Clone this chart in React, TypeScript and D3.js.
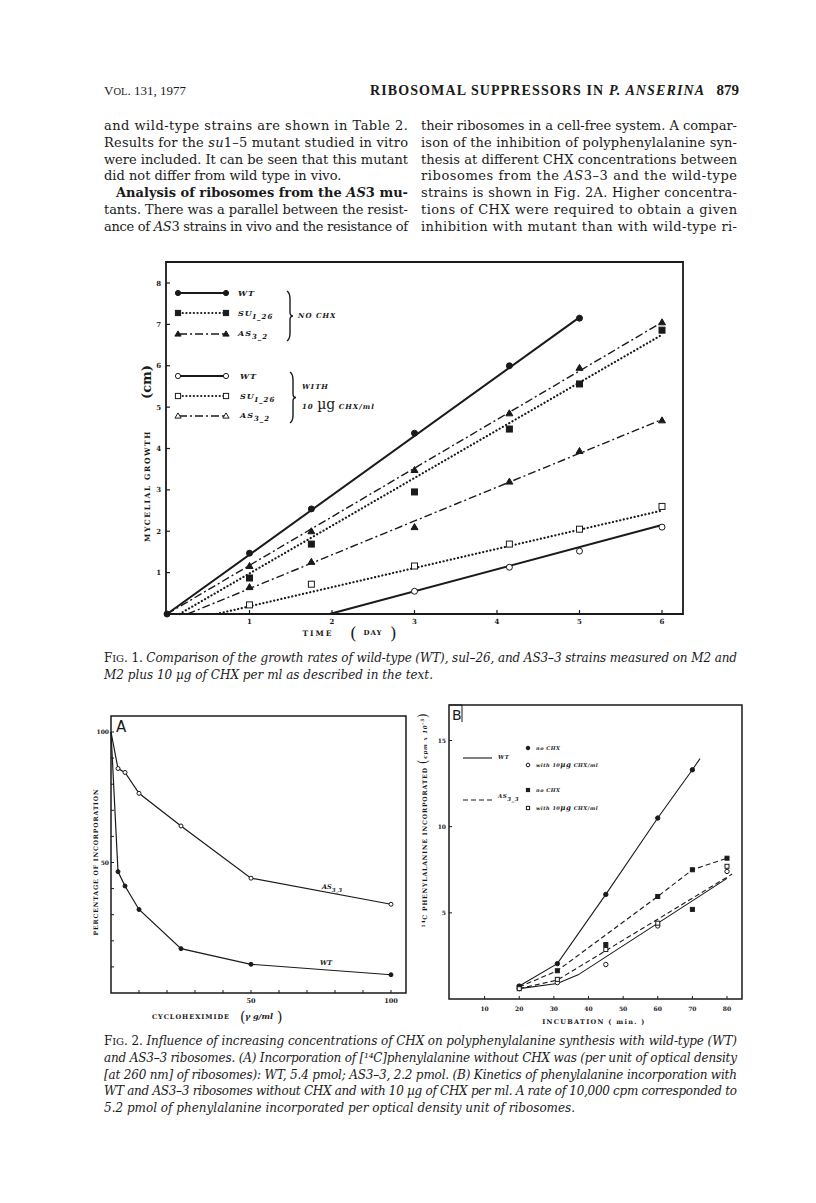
import React from "react";
import * as d3 from "d3";

// ---------- Page text ----------
const HEADER_LEFT = "131, 1977";
const PAGE_NO = "879";
const LEFT_COL = [
  "and wild-type strains are shown in Table 2.",
  "Results for the su1–5 mutant studied in vitro",
  "were included. It can be seen that this mutant",
  "did not differ from wild type in vivo.",
  "Analysis of ribosomes from the AS3 mu-",
  "tants. There was a parallel between the resist-",
  "ance of AS3 strains in vivo and the resistance of",
];
const RIGHT_COL = [
  "their ribosomes in a cell-free system. A compar-",
  "ison of the inhibition of polyphenylalanine syn-",
  "thesis at different CHX concentrations between",
  "ribosomes from the AS3–3 and the wild-type",
  "strains is shown in Fig. 2A. Higher concentra-",
  "tions of CHX were required to obtain a given",
  "inhibition with mutant than with wild-type ri-",
];
const CAP1 = [
  "Comparison of the growth rates of wild-type (WT), sul–26, and AS3–3 strains measured on M2 and",
  "M2 plus 10 µg of CHX per ml as described in the text.",
];
const CAP2 = [
  "Influence of increasing concentrations of CHX on polyphenylalanine synthesis with wild-type (WT)",
  "and AS3–3 ribosomes. (A) Incorporation of [¹⁴C]phenylalanine without CHX was (per unit of optical density",
  "[at 260 nm] of ribosomes): WT, 5.4 pmol; AS3–3, 2.2 pmol. (B) Kinetics of phenylalanine incorporation with",
  "WT and AS3–3 ribosomes without CHX and with 10 µg of CHX per ml. A rate of 10,000 cpm corresponded to",
  "5.2 pmol of phenylalanine incorporated per optical density unit of ribosomes.",
];

// ---------- Fig 1 data (day, cm) ----------
const F1_X_TICKS = [1, 2, 3, 4, 5, 6];
const F1_Y_TICKS = [1, 2, 3, 4, 5, 6, 7, 8];
const F1_DAYS_WT = [0, 1, 1.75, 3, 4.15, 5];
const F1_WT_NOCHX = [0, 1.47, 2.54, 4.37, 6.0, 7.15];
const F1_DAYS = [1, 1.75, 3, 4.15, 5, 6];
const F1_SU_NOCHX = [0.87, 1.69, 2.95, 4.47, 5.56, 6.86];
const F1_AS_NOCHX = [1.16, 2.0, 3.48, 4.85, 5.95, 7.05];
const F1_AS_CHX = [0.65, 1.26, 2.1, 3.2, 3.94, 4.68];
const F1_SU_CHX = [0.22, 0.72, 1.16, 1.69, 2.05, 2.6];
const F1_DAYS_WTC = [3, 4.15, 5, 6];
const F1_WT_CHX = [0.55, 1.13, 1.52, 2.1];
// fitted straight lines: [startDay, startCm, endDay, endCm]
const F1_FIT_WT_NOCHX = [0, 0, 5.02, 7.2];
const F1_FIT_SU_NOCHX = [0.15, 0, 6, 6.75];
const F1_FIT_AS_NOCHX = [0, 0, 6, 7.05];
const F1_FIT_AS_CHX = [0.25, 0, 6, 4.7];
const F1_FIT_SU_CHX = [0.6, 0, 6, 2.5];
const F1_FIT_WT_CHX = [1.97, 0, 6, 2.15];

// ---------- Fig 2A data (µg/ml, %) ----------
const A_TICKS = [10, 20, 30, 40, 50, 60, 70, 80, 90, 100];
const A_CONC = [0, 2.5, 5, 10, 25, 50, 100];
const A_AS = [100, 86, 84.5, 76.5, 64, 44, 34];
const A_WT = [100, 46.5, 41, 32, 17, 11, 7];

// ---------- Fig 2B data (min, cpm x 10^-3) ----------
const B_X_TICKS = [10, 20, 30, 40, 50, 60, 70, 80];
const B_Y_TICKS = [5, 10, 15];
const B_T_WT_NO = [20, 31, 45, 60, 70];
const B_WT_NO = [0.75, 2.05, 6.07, 10.5, 13.3];
const B_LT_WT_NO = [20, 31, 45, 60, 70, 72.2];
const B_L_WT_NO = [0.75, 2.05, 6.07, 10.5, 13.3, 13.95];
const B_T_WT_CHX = [20, 31, 45, 60, 80];
const B_WT_CHX = [0.6, 0.95, 2.0, 4.24, 7.4];
const B_LT_WT_CHX = [20, 31, 37, 80];
const B_L_WT_CHX = [0.6, 0.9, 1.4, 7.0];
const B_T_AS_NO = [20, 31, 45, 60, 70, 80];
const B_AS_NO = [0.7, 1.64, 3.16, 5.95, 7.5, 8.17];
const B_LT_AS_NO = [20, 31, 60, 70, 80];
const B_L_AS_NO = [0.7, 1.64, 5.95, 7.5, 8.17];
const B_T_AS_CHX = [20, 31, 45, 60, 70, 80];
const B_AS_CHX = [0.6, 1.14, 2.87, 4.4, 5.2, 7.7];
const B_LT_AS_CHX = [20, 31, 81.5];
const B_L_AS_CHX = [0.6, 1.1, 7.25];

const SERIF = "'DejaVu Serif', 'Liberation Serif', serif";
const LSERIF = "'Liberation Serif', serif";
const INK = "#1a1a1a";

type MK = "circle" | "square" | "triangle";
function Marker({ x, y, kind, filled, s = 3 }: { x: number; y: number; kind: MK; filled: boolean; s?: number }) {
  const fill = filled ? INK : "white";
  if (kind === "circle") return <circle cx={x} cy={y} r={s} fill={fill} stroke={INK} strokeWidth={1} />;
  if (kind === "square") return <rect x={x - s} y={y - s} width={2 * s} height={2 * s} fill={fill} stroke={INK} strokeWidth={1} />;
  return <path d={`M${x},${y - s - 0.5}L${x + s + 0.5},${y + s - 0.5}L${x - s - 0.5},${y + s - 0.5}Z`} fill={fill} stroke={INK} strokeWidth={1} />;
}

const STY = {
  solid: { strokeWidth: 2, strokeDasharray: undefined as string | undefined, strokeLinecap: "butt" as const },
  dotted: { strokeWidth: 2.2, strokeDasharray: "0.1,3.6", strokeLinecap: "round" as const },
  dashdot: { strokeWidth: 1.4, strokeDasharray: "8,3,2,3", strokeLinecap: "butt" as const },
};

// italicize gene names ("su" / "AS" directly followed by a digit)
function rich(text: string) {
  const parts = text.split(/((?:su|AS)(?=\d))/);
  return parts.map((p, i) => (i % 2 === 1 ? <tspan key={i} fontStyle="italic">{p}</tspan> : <tspan key={i}>{p}</tspan>));
}

function Justified({ x, y, w, text, size, family, weight, style, justify = true }: any) {
  return (
    <text x={x} y={y} fontSize={size} fontFamily={family} fontWeight={weight} fontStyle={style} fill={INK}
      {...(justify ? { textLength: w, lengthAdjust: "spacing" } : {})}>
      {style ? text : rich(text)}
    </text>
  );
}

function Fig1() {
  const x = d3.scaleLinear().domain([0, 6]).range([167, 662]);
  const y = d3.scaleLinear().domain([0, 8]).range([614, 283]);
  const L = 166, R = 683, T = 262, B = 614;
  const fit = (f: number[], sty: keyof typeof STY) => (
    <line x1={x(f[0])} y1={y(f[1])} x2={x(f[2])} y2={y(f[3])} stroke={INK} fill="none"
      strokeWidth={STY[sty].strokeWidth} strokeDasharray={STY[sty].strokeDasharray} strokeLinecap={STY[sty].strokeLinecap} />
  );
  const pts = (xs: number[], ys: number[], kind: MK, filled: boolean) =>
    ys.map((v, i) => <Marker key={i} x={x(xs[i])} y={y(v)} kind={kind} filled={filled} />);
  const legRow = (yy: number, kind: MK, filled: boolean, sty: keyof typeof STY) => (
    <g>
      <line x1={179} x2={226} y1={yy} y2={yy} stroke={INK} strokeWidth={STY[sty].strokeWidth}
        strokeDasharray={STY[sty].strokeDasharray} strokeLinecap={STY[sty].strokeLinecap} />
      <Marker x={178} y={yy} kind={kind} filled={filled} s={2.6} />
      <Marker x={226} y={yy} kind={kind} filled={filled} s={2.6} />
    </g>
  );
  const lab = { fontFamily: SERIF, fontWeight: 700, fontStyle: "italic", fontSize: 8, letterSpacing: 1, fill: INK };
  const brace = (x0: number, y0: number, y1: number) => {
    const m = (y0 + y1) / 2;
    return <path d={`M${x0 - 2},${y0} Q${x0 + 1},${y0 + 2} ${x0 + 1},${y0 + 8} L${x0 + 1},${m - 4} Q${x0 + 1},${m} ${x0 + 4},${m} Q${x0 + 1},${m} ${x0 + 1},${m + 4} L${x0 + 1},${y1 - 8} Q${x0 + 1},${y1 - 2} ${x0 - 2},${y1}`}
      fill="none" stroke={INK} strokeWidth={1.4} />;
  };
  return (
    <g>
      <path d={`M${L},${T}H${R}V${B}H${L}Z`} fill="none" stroke={INK} strokeWidth={1.8} />
      {F1_Y_TICKS.map((t) => (
        <g key={t}>
          <line x1={L} x2={L + 4} y1={y(t)} y2={y(t)} stroke={INK} strokeWidth={1.2} />
          <text x={L - 5} y={y(t) + 2.5} textAnchor="end" fontFamily={SERIF} fontWeight={700} fontSize={7} fill={INK}>{t}</text>
        </g>
      ))}
      {F1_X_TICKS.map((t) => (
        <g key={t}>
          <line x1={x(t)} x2={x(t)} y1={B} y2={B - 4} stroke={INK} strokeWidth={1.2} />
          <text x={x(t)} y={B + 10} textAnchor="middle" fontFamily={SERIF} fontWeight={700} fontSize={7} fill={INK}>{t}</text>
        </g>
      ))}
      <text x={318} y={636} textAnchor="middle" fontFamily={SERIF} fontWeight={700} fontSize={7.5} letterSpacing={2} fill={INK}>TIME</text>
      <text x={350} y={639} fontFamily={SERIF} fontSize={17} fill={INK}>(</text>
      <text x={373} y={635} textAnchor="middle" fontFamily={SERIF} fontWeight={700} fontSize={7} letterSpacing={1} fill={INK}>DAY</text>
      <text x={390} y={639} fontFamily={SERIF} fontSize={17} fill={INK}>)</text>
      <g transform="translate(150,486) rotate(-90)">
        <text x={0} y={0} textAnchor="middle" fontFamily={SERIF} fontWeight={700} fontSize={7.5} letterSpacing={1.6} fill={INK}>MYCELIAL GROWTH</text>
      </g>
      <g transform="translate(151,382) rotate(-90)">
        <text x={0} y={0} textAnchor="middle" fontFamily={SERIF} fontSize={13} fontWeight={700} fill={INK}>(cm)</text>
      </g>
      {fit(F1_FIT_WT_NOCHX, "solid")}
      {fit(F1_FIT_SU_NOCHX, "dotted")}
      {fit(F1_FIT_AS_NOCHX, "dashdot")}
      {fit(F1_FIT_AS_CHX, "dashdot")}
      {fit(F1_FIT_SU_CHX, "dotted")}
      {fit(F1_FIT_WT_CHX, "solid")}
      {pts(F1_DAYS_WT, F1_WT_NOCHX, "circle", true)}
      {pts(F1_DAYS, F1_SU_NOCHX, "square", true)}
      {pts(F1_DAYS, F1_AS_NOCHX, "triangle", true)}
      {pts(F1_DAYS, F1_AS_CHX, "triangle", true)}
      {pts(F1_DAYS, F1_SU_CHX, "square", false)}
      {pts(F1_DAYS_WTC, F1_WT_CHX, "circle", false)}
      {legRow(293, "circle", true, "solid")}
      {legRow(313, "square", true, "dotted")}
      {legRow(334, "triangle", true, "dashdot")}
      {legRow(376, "circle", false, "solid")}
      {legRow(396, "square", false, "dotted")}
      {legRow(416, "triangle", false, "dashdot")}
      <text x={238} y={296} {...lab}>WT</text>
      <text x={238} y={316} {...lab}>SU<tspan dy={3} fontSize={7}>I_26</tspan></text>
      <text x={238} y={336} {...lab}>AS<tspan dy={3} fontSize={7}>3_2</tspan></text>
      <text x={240} y={379} {...lab}>WT</text>
      <text x={240} y={399} {...lab}>SU<tspan dy={3} fontSize={7}>I_26</tspan></text>
      <text x={240} y={418} {...lab}>AS<tspan dy={3} fontSize={7}>3_2</tspan></text>
      {brace(289, 291, 341)}
      {brace(292, 372, 423)}
      <text x={298} y={318} {...lab} fontSize={7}>NO CHX</text>
      <text x={302} y={389} {...lab} fontSize={7}>WITH</text>
      <text x={302} y={409} {...lab} fontSize={7}>10 <tspan fontSize={14} fontStyle="normal" fontWeight={400} letterSpacing={0}>µg</tspan> CHX/ml</text>
    </g>
  );
}

function Fig2A() {
  const x = d3.scaleLinear().domain([0, 100]).range([111, 391]);
  const y = d3.scaleLinear().domain([0, 100]).range([993, 732]);
  const L = 111, R = 406, T = 716, B = 993;
  const line = d3.line<number>().x((_, i) => x(A_CONC[i])).y((v) => y(v));
  return (
    <g>
      <path d={`M${L},${T}H${R}V${B}H${L}Z`} fill="none" stroke={INK} strokeWidth={1.5} />
      {A_TICKS.map((t) => (
        <g key={t}>
          <line x1={L} x2={L + 3} y1={y(t)} y2={y(t)} stroke={INK} strokeWidth={1} />
          <line x1={x(t)} x2={x(t)} y1={B} y2={B - 3} stroke={INK} strokeWidth={1} />
        </g>
      ))}
      {[50, 100].map((t) => (
        <g key={t}>
          <text x={L - 2} y={y(t) + 2} textAnchor="end" fontFamily={SERIF} fontWeight={700} fontSize={6} fill={INK}>{t}</text>
          <text x={x(t)} y={B + 10} textAnchor="middle" fontFamily={SERIF} fontWeight={700} fontSize={6.5} fill={INK}>{t}</text>
        </g>
      ))}
      <text x={116} y={732} fontFamily="'DejaVu Sans', sans-serif" fontSize={15} fill={INK}>A</text>
      <path d={line(A_AS) || ""} fill="none" stroke={INK} strokeWidth={1.2} />
      <path d={line(A_WT) || ""} fill="none" stroke={INK} strokeWidth={1.2} />
      {A_AS.map((v, i) => i > 0 && <Marker key={i} x={x(A_CONC[i])} y={y(v)} kind="circle" filled={false} s={2} />)}
      {A_WT.map((v, i) => i > 0 && <Marker key={i} x={x(A_CONC[i])} y={y(v)} kind="circle" filled={true} s={2} />)}
      <text x={322} y={889} fontFamily={SERIF} fontWeight={700} fontStyle="italic" fontSize={6.5} fill={INK}>AS<tspan dy={2.5} fontSize={5.5}>3_3</tspan></text>
      <text x={320} y={965} fontFamily={SERIF} fontWeight={700} fontStyle="italic" fontSize={6.5} fill={INK}>WT</text>
      <g transform="translate(98,862) rotate(-90)">
        <text textAnchor="middle" fontFamily={SERIF} fontWeight={700} fontSize={6.2} letterSpacing={0.8} fill={INK}>PERCENTAGE OF INCORPORATION</text>
      </g>
      <text x={191} y={1019} textAnchor="middle" fontFamily={SERIF} fontWeight={700} fontSize={6.5} letterSpacing={1} fill={INK}>CYCLOHEXIMIDE</text>
      <text x={240} y={1022} fontFamily={SERIF} fontSize={14} fill={INK}>(</text>
      <text x={259} y={1019} textAnchor="middle" fontFamily={SERIF} fontStyle="italic" fontWeight={700} fontSize={8} fill={INK}>γ g/ml</text>
      <text x={277} y={1022} fontFamily={SERIF} fontSize={14} fill={INK}>)</text>
    </g>
  );
}

function Fig2B() {
  const x = d3.scaleLinear().domain([0, 80]).range([450, 727]);
  const y = d3.scaleLinear().domain([0, 15]).range([999, 740.5]);
  const L = 449, R = 742, T = 705, B = 999;
  const mk = (ts: number[]) => d3.line<number>().x((_, i) => x(ts[i])).y((v) => y(v));
  const lab = { fontFamily: SERIF, fontStyle: "italic", fontWeight: 700, fontSize: 5, letterSpacing: 0.5, fill: INK };
  return (
    <g>
      <path d={`M${L},${T}H${R}V${B}H${L}Z`} fill="none" stroke={INK} strokeWidth={1.5} />
      <path d={`M${L},${T}H${L + 13}V${T + 17}`} fill="none" stroke={INK} strokeWidth={1} />
      <text x={452} y={720} fontFamily="'DejaVu Sans', sans-serif" fontSize={14} fill={INK}>B</text>
      {B_Y_TICKS.map((t) => (
        <g key={t}>
          <line x1={L} x2={L + 3} y1={y(t)} y2={y(t)} stroke={INK} strokeWidth={1} />
          <text x={L - 3} y={y(t) + 2} textAnchor="end" fontFamily={SERIF} fontWeight={700} fontSize={6} fill={INK}>{t}</text>
        </g>
      ))}
      {B_X_TICKS.map((t) => (
        <g key={t}>
          <line x1={x(t)} x2={x(t)} y1={B} y2={B - 3} stroke={INK} strokeWidth={1} />
          <text x={x(t)} y={B + 12} textAnchor="middle" fontFamily={SERIF} fontWeight={700} fontSize={6} fill={INK}>{t}</text>
        </g>
      ))}
      <path d={mk(B_LT_WT_NO)(B_L_WT_NO) || ""} fill="none" stroke={INK} strokeWidth={1.1} />
      <path d={mk(B_LT_WT_CHX)(B_L_WT_CHX) || ""} fill="none" stroke={INK} strokeWidth={1.1} />
      <path d={mk(B_LT_AS_NO)(B_L_AS_NO) || ""} fill="none" stroke={INK} strokeWidth={1.1} strokeDasharray="5,3" />
      <path d={mk(B_LT_AS_CHX)(B_L_AS_CHX) || ""} fill="none" stroke={INK} strokeWidth={1.1} strokeDasharray="5,3" />
      {B_WT_NO.map((v, i) => <Marker key={"a" + i} x={x(B_T_WT_NO[i])} y={y(v)} kind="circle" filled s={2.2} />)}
      {B_WT_CHX.map((v, i) => <Marker key={"b" + i} x={x(B_T_WT_CHX[i])} y={y(v)} kind="circle" filled={false} s={2.2} />)}
      {B_AS_NO.map((v, i) => <Marker key={"c" + i} x={x(B_T_AS_NO[i])} y={y(v)} kind="square" filled s={2} />)}
      {B_AS_CHX.map((v, i) => <Marker key={"d" + i} x={x(B_T_AS_CHX[i])} y={y(v)} kind="square" filled={B_T_AS_CHX[i] === 70} s={2} />)}
      <line x1={463} x2={492} y1={758} y2={758} stroke={INK} strokeWidth={1.1} />
      <text x={498} y={759} {...lab} fontSize={5.5}>WT</text>
      <Marker x={528} y={748} kind="circle" filled s={1.8} />
      <text x={536} y={750} {...lab}>no CHX</text>
      <Marker x={528} y={765} kind="circle" filled={false} s={1.8} />
      <text x={536} y={767} {...lab}>with 10<tspan fontSize={7}>µg</tspan> CHX/ml</text>
      <line x1={463} x2={492} y1={800} y2={800} stroke={INK} strokeWidth={1.1} strokeDasharray="5,3" />
      <text x={498} y={798} {...lab} fontSize={5.5}>AS<tspan dy={3}>3_3</tspan></text>
      <Marker x={528} y={790} kind="square" filled s={1.6} />
      <text x={536} y={792} {...lab}>no CHX</text>
      <Marker x={528} y={808} kind="square" filled={false} s={1.6} />
      <text x={536} y={810} {...lab}>with 10<tspan fontSize={7}>µg</tspan> CHX/ml</text>
      <g transform="translate(427,820) rotate(-90)">
        <text textAnchor="middle" fontFamily={SERIF} fontWeight={700} fontSize={6.2} letterSpacing={0.8} fill={INK}>
          <tspan fontSize={4.5} dy={-2}>14</tspan><tspan dy={2}>C PHENYLALANINE INCORPORATED </tspan>
          <tspan fontSize={12} fontWeight={400}>(</tspan><tspan fontStyle="italic" fontSize={5.5}>cpm x 10</tspan><tspan fontSize={4.5} dy={-3}>-3</tspan><tspan fontSize={12} fontWeight={400} dy={3}>)</tspan>
        </text>
      </g>
      <text x={594} y={1024} textAnchor="middle" fontFamily={SERIF} fontWeight={700} fontSize={6.5} letterSpacing={1.3} fill={INK}>INCUBATION  ( min. )</text>
    </g>
  );
}

export default function App() {
  const lineH = 16.8;
  return (
    <svg width={816} height={1203} viewBox="0 0 816 1203" style={{ position: "absolute", left: 0, top: 0, background: "white" }}>
      <rect width={816} height={1203} fill="white" />
      <text x={104} y={95} fontFamily={LSERIF} fontSize={13} fill={INK}>V<tspan fontSize={10.5}>OL</tspan>. {HEADER_LEFT}</text>
      <text x={370} y={95} fontFamily={LSERIF} fontSize={14} fontWeight={700} fill={INK} textLength={334} lengthAdjust="spacing">RIBOSOMAL SUPPRESSORS IN <tspan fontStyle="italic">P. ANSERINA</tspan></text>
      <text x={739} y={95} textAnchor="end" fontFamily={LSERIF} fontSize={15} fontWeight={700} fill={INK}>{PAGE_NO}</text>
      {LEFT_COL.map((t, i) => (
        <Justified key={i} x={i === 4 ? 116 : 104} y={130 + i * lineH} w={i === 4 ? 292 : 304} text={t} size={13} family={SERIF}
          weight={i === 4 ? 700 : 400} justify={i !== 3} />
      ))}
      {RIGHT_COL.map((t, i) => (
        <Justified key={i} x={421} y={130 + i * lineH} w={316} text={t} size={13} family={SERIF} />
      ))}
      <Fig1 />
      <text x={104} y={662} fontFamily={SERIF} fontSize={12} fill={INK} textLength={633} lengthAdjust="spacing">
        <tspan>F</tspan><tspan fontSize={10}>IG</tspan><tspan>. 1. </tspan>
        <tspan fontStyle="italic">{CAP1[0]}</tspan>
      </text>
      <text x={104} y={679} fontFamily={SERIF} fontSize={12} fontStyle="italic" fill={INK}>{CAP1[1]}</text>
      <Fig2A />
      <Fig2B />
      <text x={104} y={1045} fontFamily={SERIF} fontSize={12} fill={INK} textLength={633} lengthAdjust="spacing">
        <tspan>F</tspan><tspan fontSize={10}>IG</tspan><tspan>. 2. </tspan>
        <tspan fontStyle="italic">{CAP2[0]}</tspan>
      </text>
      {CAP2.slice(1).map((t, i) => (
        <Justified key={i} x={104} y={1045 + (i + 1) * 16.8} w={633} text={t} size={12} family={SERIF} style="italic" justify={i < 3} />
      ))}
    </svg>
  );
}
